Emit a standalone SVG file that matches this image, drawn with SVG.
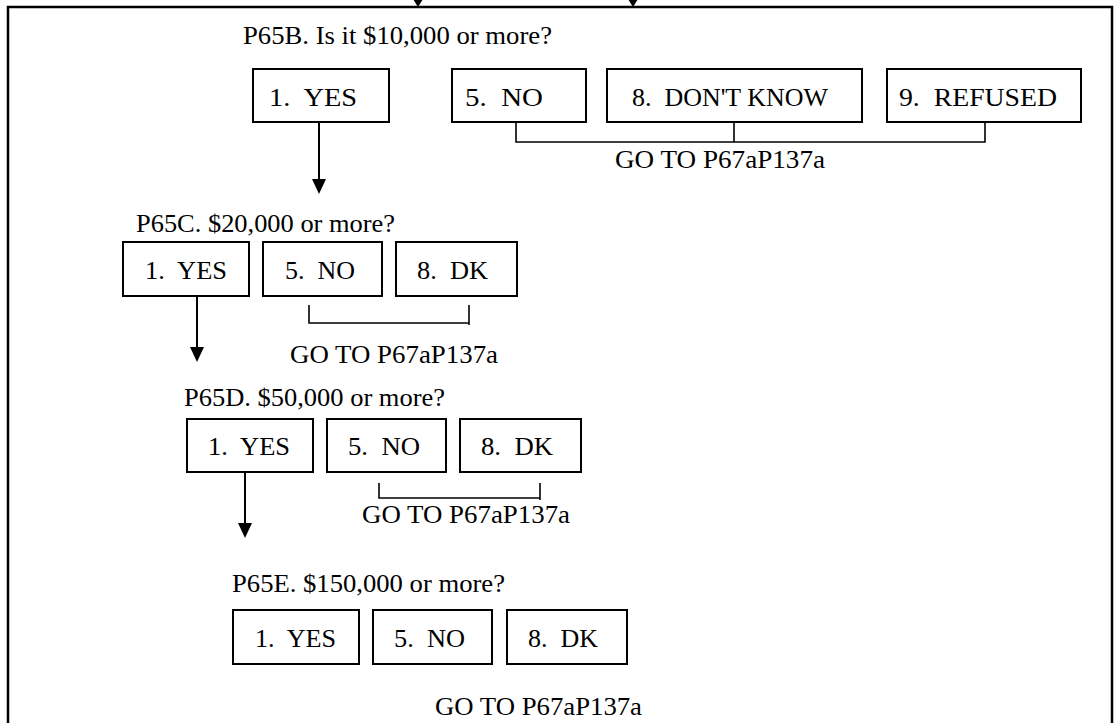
<svg xmlns="http://www.w3.org/2000/svg" width="1115" height="723" viewBox="0 0 1115 723">
<style>
  .box{fill:#fff;stroke:#000;stroke-width:2}
  .t{font-family:"Liberation Serif","Times New Roman",serif;font-size:26px;fill:#000;white-space:pre}
  .ln{fill:none;stroke:#000;stroke-width:2}
  .br{fill:none;stroke:#000;stroke-width:1.6}
  .ah{fill:#000;stroke:none}
</style>
<rect width="1115" height="723" fill="#fff"/>
<rect x="8" y="7" width="1104" height="730" fill="none" stroke="#000" stroke-width="2.5"/>

<g id="connectors">
  <line class="ln" x1="418" y1="-10" x2="418" y2="0"/>
  <polygon class="ah" points="413,-1 423,-1 418,7"/>
  <line class="ln" x1="633" y1="-10" x2="633" y2="0"/>
  <polygon class="ah" points="628,-1 638,-1 633,7"/>

  <line class="ln" x1="319" y1="122" x2="319" y2="181"/>
  <polygon class="ah" points="312,179 326,179 319,194"/>
  <polyline class="br" points="516,122 516,142 985,142 985,122"/>
  <line class="br" x1="734" y1="122" x2="734" y2="142"/>

  <line class="ln" x1="197" y1="296" x2="197" y2="349"/>
  <polygon class="ah" points="190,347 204,347 197,362"/>
  <polyline class="br" points="309,305 309,323 469,323"/>
  <line class="br" x1="469" y1="305" x2="469" y2="325"/>

  <line class="ln" x1="245" y1="472" x2="245" y2="525"/>
  <polygon class="ah" points="238,523 252,523 245,538"/>
  <polyline class="br" points="379,483 379,498 540,498"/>
  <line class="br" x1="540" y1="483" x2="540" y2="500"/>
</g>

<g id="q-b">
  <text class="t" x="243" y="44" textLength="309" lengthAdjust="spacingAndGlyphs">P65B. Is it $10,000 or more?</text>
</g>
<g id="b-yes"><rect class="box" x="253" y="69" width="136" height="53"/><text class="t" x="269" y="106" xml:space="preserve" textLength="88" lengthAdjust="spacingAndGlyphs">1.  YES</text></g>
<g id="b-no"><rect class="box" x="452" y="69" width="134" height="53"/><text class="t" x="465" y="106" xml:space="preserve" textLength="78" lengthAdjust="spacingAndGlyphs">5.  NO</text></g>
<g id="b-dk"><rect class="box" x="607" y="69" width="255" height="53"/><text class="t" x="632" y="106" xml:space="preserve" textLength="196" lengthAdjust="spacingAndGlyphs">8.  DON'T KNOW</text></g>
<g id="b-ref"><rect class="box" x="887" y="69" width="194" height="53"/><text class="t" x="899" y="106" xml:space="preserve" textLength="158" lengthAdjust="spacingAndGlyphs">9.  REFUSED</text></g>
<g id="b-goto"><text class="t" x="615" y="168" textLength="210" lengthAdjust="spacingAndGlyphs">GO TO P67aP137a</text></g>

<g id="q-c">
  <text class="t" x="136" y="232" textLength="259" lengthAdjust="spacingAndGlyphs">P65C. $20,000 or more?</text>
</g>
<g id="c-yes"><rect class="box" x="123" y="242" width="126" height="54"/><text class="t" x="145" y="279" xml:space="preserve" textLength="82" lengthAdjust="spacingAndGlyphs">1.  YES</text></g>
<g id="c-no"><rect class="box" x="263" y="242" width="119" height="54"/><text class="t" x="285" y="279" xml:space="preserve" textLength="70" lengthAdjust="spacingAndGlyphs">5.  NO</text></g>
<g id="c-dk"><rect class="box" x="396" y="242" width="121" height="54"/><text class="t" x="417" y="279" xml:space="preserve" textLength="71" lengthAdjust="spacingAndGlyphs">8.  DK</text></g>
<g id="c-goto"><text class="t" x="290" y="363" textLength="208" lengthAdjust="spacingAndGlyphs">GO TO P67aP137a</text></g>

<g id="q-d">
  <text class="t" x="184" y="406" textLength="261" lengthAdjust="spacingAndGlyphs">P65D. $50,000 or more?</text>
</g>
<g id="d-yes"><rect class="box" x="187" y="419" width="126" height="53"/><text class="t" x="208" y="455" xml:space="preserve" textLength="82" lengthAdjust="spacingAndGlyphs">1.  YES</text></g>
<g id="d-no"><rect class="box" x="327" y="419" width="119" height="53"/><text class="t" x="348" y="455" xml:space="preserve" textLength="72" lengthAdjust="spacingAndGlyphs">5.  NO</text></g>
<g id="d-dk"><rect class="box" x="460" y="419" width="121" height="53"/><text class="t" x="481" y="455" xml:space="preserve" textLength="72" lengthAdjust="spacingAndGlyphs">8.  DK</text></g>
<g id="d-goto"><text class="t" x="362" y="523" textLength="208" lengthAdjust="spacingAndGlyphs">GO TO P67aP137a</text></g>

<g id="q-e">
  <text class="t" x="232" y="592" textLength="273" lengthAdjust="spacingAndGlyphs">P65E. $150,000 or more?</text>
</g>
<g id="e-yes"><rect class="box" x="233" y="610" width="126" height="54"/><text class="t" x="255" y="647" xml:space="preserve" textLength="81" lengthAdjust="spacingAndGlyphs">1.  YES</text></g>
<g id="e-no"><rect class="box" x="373" y="610" width="119" height="54"/><text class="t" x="394" y="647" xml:space="preserve" textLength="71" lengthAdjust="spacingAndGlyphs">5.  NO</text></g>
<g id="e-dk"><rect class="box" x="507" y="610" width="120" height="54"/><text class="t" x="528" y="647" xml:space="preserve" textLength="70" lengthAdjust="spacingAndGlyphs">8.  DK</text></g>
<g id="e-goto"><text class="t" x="435" y="715" textLength="207" lengthAdjust="spacingAndGlyphs">GO TO P67aP137a</text></g>
</svg>
